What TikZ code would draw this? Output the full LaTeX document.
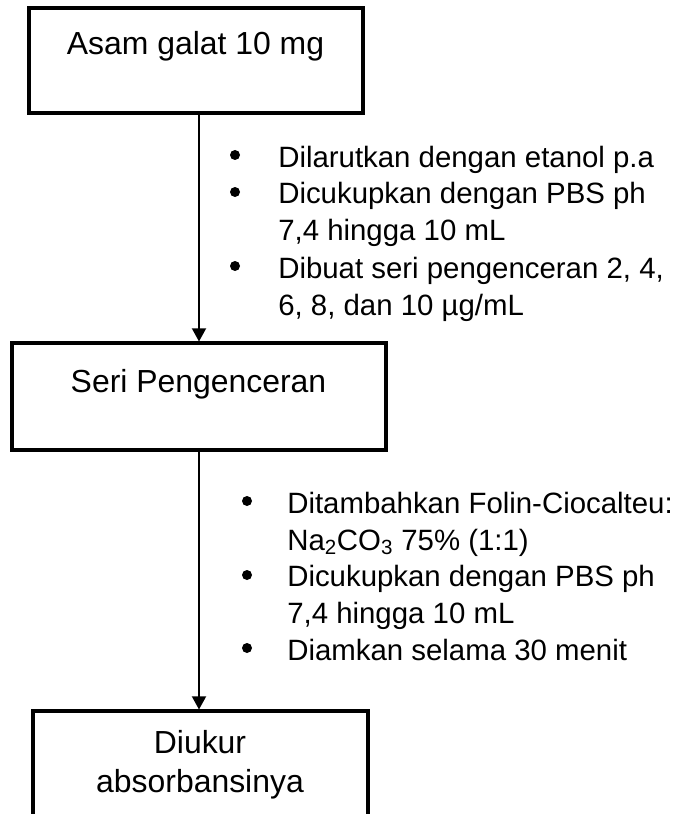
\documentclass[tikz,border=0pt]{standalone}
\usepackage{fontspec}
\setmainfont{Liberation Sans}
\usetikzlibrary{arrows.meta}

\tikzset{
  kotak/.style={draw, line width=0.1cm},
  judul/.style={inner sep=0pt, anchor=base, align=center, font=\fontsize{22.7}{27.6}\selectfont},
  butir/.style={inner sep=0pt, anchor=base west, align=left, font=\fontsize{20.9}{26.3}\selectfont},
  panah/.style={line width=0.05cm, -{Triangle[width=0.35cm,length=0.33cm]}}
}

\begin{document}
\begin{tikzpicture}[x=0.025cm, y=-0.025cm]
  \useasboundingbox (0,0) rectangle (676,814);
  \clip (0,0) rectangle (676,814);

  % Kotak
  \node[kotak, minimum width=8.325cm, minimum height=2.6125cm] (galat) at (196,60.75) {};
  \node[kotak, minimum width=9.325cm, minimum height=2.65cm] (seri) at (199,396.5) {};
  \node[kotak, minimum width=8.35cm, minimum height=2.6375cm] (ukur) at (200.5,764.25) {};

  % Tulisan kotak (anchor base = baris terakhir)
  \node[judul] (tgalat) at (195.5,55) {Asam galat 10 mg};
  \node[judul] (tseri) at (198.5,392) {Seri Pengenceran};
  \node[judul] (tukur) at (200,792) {Diukur\\absorbansinya};

  % Panah
  \draw[panah] (galat.south -| seri.north) -- (seri.north);
  \draw[panah] (seri.south) -- (seri.south |- ukur.north);

  % Keterangan 1
  \node[butir] (a1) at (278,167) {Dilarutkan dengan etanol p.a};
  \node[butir] (a2) at (278,240) {Dicukupkan dengan PBS ph\\7,4 hingga 10 mL};
  \node[butir] (a3) at (278,315) {Dibuat seri pengenceran 2, 4,\\6, 8, dan 10 µg/mL};
  \fill (235,155) circle (5);
  \fill (235,192) circle (5);
  \fill (235,266) circle (5);

  % Keterangan 2
  \node[butir] (b1) at (287,550) {Ditambahkan Folin-Ciocalteu:\\Na\textsubscript{2}CO\textsubscript{3} 75\% (1:1)};
  \node[butir] (b2) at (287,623) {Dicukupkan dengan PBS ph\\7,4 hingga 10 mL};
  \node[butir] (b3) at (287,660) {Diamkan selama 30 menit};
  \fill (247,501) circle (5);
  \fill (247,575) circle (5);
  \fill (247,648) circle (5);
\end{tikzpicture}
\end{document}
